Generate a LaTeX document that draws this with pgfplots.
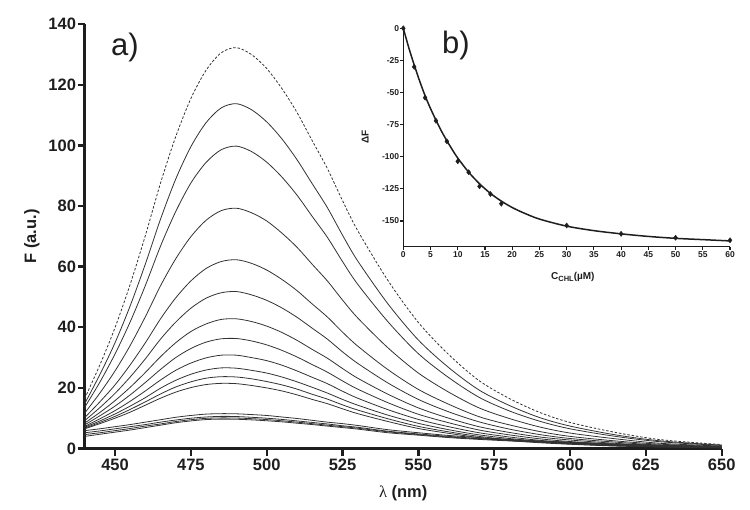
\documentclass[border=0pt]{standalone}
\usepackage{pgfplots}
\pgfplotsset{compat=1.18}
\usepackage{pgfplotstable}
\usepackage{fontspec}
\setmainfont{Liberation Sans}
\newfontfamily\seriffont{Liberation Serif}
\definecolor{spec}{RGB}{50,50,50}
\definecolor{axc}{RGB}{30,30,30}

\pgfplotstableread{
l c1 c2 c3 c4 c5 c6 c7 c8 c9 c10 c11 c12 d1 d2 d3 d4
440 16.5 14.8 13.6 11.7 10.2 9.2 8.4 7.8 7.3 7.0 6.7 6.5 5.9 5.2 4.6 4.0
445 27.6 24.4 21.9 18.3 15.4 13.5 11.9 10.8 9.8 9.1 8.6 8.2 6.5 5.8 5.2 4.7
450 39.9 34.9 31.2 25.6 21.0 18.2 15.8 14.0 12.5 11.4 10.6 10.0 7.2 6.5 5.9 5.4
455 54.2 47.1 41.8 34.0 27.6 23.6 20.2 17.7 15.6 14.0 12.9 12.0 7.9 7.2 6.6 6.1
460 70.3 60.9 53.8 43.5 34.9 29.6 25.1 21.8 19.0 16.8 15.4 14.3 8.7 7.9 7.4 6.9
465 87.6 75.7 66.8 53.7 42.8 36.1 30.3 26.1 22.6 19.9 18.0 16.6 9.5 8.7 8.1 7.7
470 102.9 88.9 78.2 62.6 49.7 41.7 34.9 30.0 25.8 22.5 20.3 18.6 10.3 9.4 8.9 8.5
475 115.5 99.6 87.6 69.9 55.3 46.3 38.6 33.0 28.2 24.5 22.0 20.1 10.9 10.0 9.5 9.1
480 124.8 107.5 94.4 75.3 59.4 49.6 41.1 35.1 29.9 25.9 23.2 21.1 11.35 10.4 9.95 9.55
485 130.6 112.4 98.6 78.5 61.7 51.4 42.6 36.2 30.8 26.6 23.7 21.5 11.5 10.6 10.1 9.7
490 132.3 113.8 99.8 79.3 62.3 51.8 42.8 36.3 30.8 26.5 23.6 21.4 11.45 10.55 10.05 9.65
495 130.0 111.8 98.0 77.8 61.1 50.7 41.9 35.5 30.0 25.8 23.0 20.8 11.2 10.3 9.85 9.45
500 125.4 107.8 94.5 75.1 58.9 48.9 40.4 34.2 29.0 24.9 22.1 20.0 10.9 10.0 9.55 9.15
505 118.8 102.2 89.6 71.1 55.8 46.4 38.3 32.4 27.5 23.6 21.0 19.0 10.4 9.6 9.15 8.8
510 110.9 95.3 83.6 66.4 52.1 43.3 35.7 30.2 25.6 22.0 19.6 17.7 9.9 9.1 8.7 8.35
515 101.6 87.4 76.6 60.8 47.7 39.7 32.7 27.7 23.5 20.2 17.9 16.2 9.3 8.6 8.2 7.9
520 92.4 79.5 69.7 55.3 43.4 36.1 29.8 25.2 21.4 18.3 16.3 14.8 8.7 8.1 7.7 7.4
525 81.8 70.4 61.7 49.0 38.4 31.9 26.4 22.3 18.9 16.2 14.4 13.1 8.2 7.5 7.2 6.9
530 71.9 61.9 54.2 43.1 33.8 28.1 23.2 19.6 16.6 14.3 12.7 11.5 7.6 7.0 6.7 6.4
540 55.4 47.7 41.8 33.2 26.0 21.6 17.9 15.1 12.8 11.0 9.8 8.9 6.2 5.7 5.5 5.2
550 41.6 35.8 31.3 24.9 19.5 16.2 13.4 11.3 9.6 8.3 7.3 6.6 5.2 4.8 4.6 4.4
560 31.0 26.7 23.4 18.6 14.6 12.1 10.0 8.5 7.2 6.2 5.5 5.0 4.3 4.0 3.8 3.6
570 22.4 19.3 16.9 13.4 10.5 8.8 7.2 6.1 5.2 4.5 4.0 3.6 3.6 3.3 3.2 3.0
580 16.5 14.2 12.4 9.9 7.8 6.4 5.3 4.5 3.8 3.3 2.9 2.6 3.0 2.8 2.7 2.5
590 11.9 10.2 9.0 7.1 5.6 4.6 3.8 3.2 2.7 2.4 2.1 1.9 2.5 2.3 2.2 2.1
600 8.6 7.4 6.5 5.1 4.0 3.3 2.8 2.3 2.0 1.7 1.5 1.4 2.1 1.9 1.8 1.7
615 5.3 4.5 4.0 3.2 2.5 2.1 1.7 1.4 1.2 1.0 0.9 0.8 1.5 1.4 1.3 1.2
630 2.9 2.5 2.2 1.7 1.4 1.1 0.9 0.8 0.7 0.6 0.5 0.5 1.1 1.0 0.9 0.9
650 1.3 1.1 1.0 0.8 0.6 0.5 0.4 0.4 0.3 0.3 0.2 0.2 0.6 0.5 0.5 0.4
}\spectra

\pgfplotstableread{
c dF
0 0
2 -30
4 -54
6 -72
8 -88
10 -103.5
12 -112
14 -123
16 -129
18 -136.5
30 -153.5
40 -160
50 -163
60 -165
}\points

\pgfplotstableread{
c fit
0 0
1 -15
2 -28.5
3 -41
4 -52.5
5 -62.5
6 -71.5
7 -80
8 -87.5
9 -94.5
10 -101
12 -112
14 -121
16 -128.5
18 -134.5
20 -139.5
22 -143.5
25 -148.5
30 -154
35 -157.5
40 -160
45 -162
50 -163.5
55 -164.5
60 -165.5
}\fitcurve

\tikzset{sp/.style={spec, line width=0.8bp, smooth, mark=none}}

\begin{document}
\begin{tikzpicture}
\path[use as bounding box] (0,0) rectangle (750bp,510bp);
\begin{axis}[
  scale only axis, width=637bp, height=424.2bp,
  at={(84.7bp,61.5bp)}, anchor=south west,
  xmin=440, xmax=650, ymin=0, ymax=140,
  axis x line*=bottom, axis y line*=left,
  axis line style={line width=2.6bp, color=axc, -},
  xtick={450,475,...,650}, ytick={0,20,...,140},
  tick align=outside, major tick length=7bp,
  every tick/.style={line width=2.4bp, axc},
  tick label style={font=\fontsize{16.5bp}{18bp}\selectfont\bfseries, text=axc},
  yticklabel style={inner xsep=1.5bp},
  /pgf/number format/assume math mode=true,
  xlabel={{\seriffont\mdseries λ} (nm)},
  ylabel={F (a.u.)},
  xlabel style={font=\fontsize{16.5bp}{18bp}\selectfont\bfseries, text=axc, at={(axis description cs:0.5,-0.105)}, anchor=center},
  ylabel style={font=\fontsize{16.5bp}{18bp}\selectfont\bfseries, text=axc, at={(axis description cs:-0.083,0.5)}, anchor=center},
]
\addplot[sp, dash pattern=on 2.5bp off 1.8bp] table[x=l, y=c1] {\spectra};
\addplot[sp] table[x=l, y=c2] {\spectra};
\addplot[sp] table[x=l, y=c3] {\spectra};
\addplot[sp] table[x=l, y=c4] {\spectra};
\addplot[sp] table[x=l, y=c5] {\spectra};
\addplot[sp] table[x=l, y=c6] {\spectra};
\addplot[sp] table[x=l, y=c7] {\spectra};
\addplot[sp] table[x=l, y=c8] {\spectra};
\addplot[sp] table[x=l, y=c9] {\spectra};
\addplot[sp] table[x=l, y=c10] {\spectra};
\addplot[sp] table[x=l, y=c11] {\spectra};
\addplot[sp] table[x=l, y=c12] {\spectra};
\addplot[sp] table[x=l, y=d1] {\spectra};
\addplot[sp] table[x=l, y=d2] {\spectra};
\addplot[sp] table[x=l, y=d3] {\spectra};
\addplot[sp] table[x=l, y=d4] {\spectra};
\end{axis}

\begin{axis}[
  scale only axis, width=326.7bp, height=218.4bp,
  at={(403.3bp,263.3bp)}, anchor=south west,
  xmin=0, xmax=60, ymin=-170, ymax=0,
  axis x line*=bottom, axis y line*=left,
  axis line style={line width=1.6bp, color=axc, -},
  xtick={0,5,...,60}, ytick={-150,-125,...,0},
  tick align=outside, major tick length=3bp,
  every tick/.style={line width=1.2bp, axc},
  tick label style={font=\fontsize{8.5bp}{10bp}\selectfont\bfseries, text=axc},
  yticklabel style={inner xsep=1bp},
  xticklabel style={inner ysep=2bp},
  /pgf/number format/assume math mode=true,
  xlabel={C\raisebox{-0.35ex}{\fontsize{7.5bp}{8bp}\selectfont CHL}(\textmu M)},
  ylabel={ΔF},
  xlabel style={font=\fontsize{10bp}{12bp}\selectfont\bfseries, text=axc, at={(axis description cs:0.519,-0.139)}, anchor=center},
  ylabel style={font=\fontsize{10bp}{12bp}\selectfont\bfseries, text=axc, at={(axis description cs:-0.117,0.502)}, anchor=center},
  clip=false,
]
\addplot[axc, line width=1.5bp, smooth, mark=none] table[x=c, y=fit] {\fitcurve};
\addplot[only marks, mark=diamond*, mark size=2.6bp, axc] table[x=c, y=dF] {\points};
\end{axis}

\node[font=\fontsize{31bp}{34bp}\selectfont, text=axc] at (125bp,463bp) {a)};
\node[font=\fontsize{31bp}{34bp}\selectfont, text=axc] at (456bp,465bp) {b)};
\end{tikzpicture}
\end{document}
